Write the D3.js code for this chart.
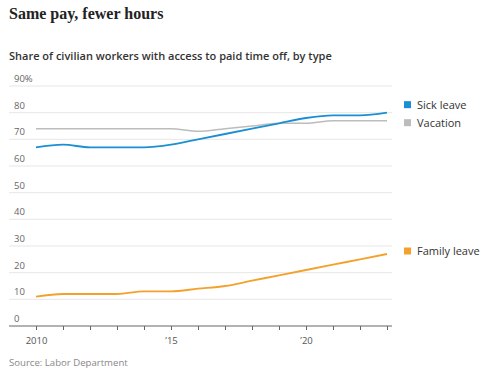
<!DOCTYPE html>
<html>
<head>
<meta charset="utf-8">
<script src="https://cdn.jsdelivr.net/npm/d3@7"></script>
<style>
  body { margin: 0; background: #fff; }
  svg { display: block; }
</style>
</head>
<body>
<svg id="chart"></svg>
<script>
// data
const years = [2010, 2011, 2012, 2013, 2014, 2015, 2016, 2017, 2018, 2019, 2020, 2021, 2022, 2023];
const sickLeave = [67, 68, 67, 67, 67, 68, 70, 72, 74, 76, 78, 79, 79, 80];
const vacation = [74, 74, 74, 74, 74, 74, 73, 74, 75, 76, 76, 77, 77, 77];
const familyLeave = [11, 12, 12, 12, 13, 13, 14, 15, 17, 19, 21, 23, 25, 27];
const seriesNames = ["Sick leave", "Vacation", "Family leave"];
const yTicks = [0, 10, 20, 30, 40, 50, 60, 70, 80, 90];
const xTickLabels = {2010: "2010", 2015: "’15", 2020: "’20"};

const width = 496, height = 375;
const colors = ["#1a8fd4", "#bcbcbc", "#f4a12c"];
const legendNudge = [-8, 2, -3];

const svg = d3.select("#chart").attr("width", width).attr("height", height);

const x = d3.scaleLinear().domain([2010, 2023]).range([36, 387]);
const y = d3.scaleLinear().domain([0, 90]).range([326, 86]);
const left = 9, right = 392;

svg.append("text")
    .attr("x", 9).attr("y", 19)
    .attr("font-family", "Liberation Serif")
    .attr("font-weight", "bold")
    .attr("font-size", 16)
    .attr("fill", "#222")
    .text("Same pay, fewer hours");

svg.append("text")
    .attr("x", 9).attr("y", 60)
    .attr("font-family", "Open Sans")
    .attr("font-weight", 600)
    .attr("font-size", 11)
    .attr("fill", "#333")
    .text("Share of civilian workers with access to paid time off, by type");

// gridlines + labels
const grid = svg.append("g");
grid.selectAll("line")
    .data(yTicks.filter(d => d > 0))
    .enter().append("line")
    .attr("x1", left).attr("x2", right)
    .attr("y1", d => y(d)).attr("y2", d => y(d))
    .attr("stroke", "#e6e6e6")
    .attr("stroke-width", 1);

grid.selectAll("text")
    .data(yTicks)
    .enter().append("text")
    .attr("x", 14)
    .attr("y", d => y(d) - 4)
    .attr("font-family", "Open Sans")
    .attr("font-size", 9.5)
    .attr("fill", "#666")
    .text(d => d === 90 ? "90%" : d);

// x axis
const xAxis = d3.axisBottom(x)
    .tickValues(years)
    .tickSize(4)
    .tickFormat(d => xTickLabels[d] || "");

const gx = svg.append("g")
    .attr("transform", `translate(0,${y(0)})`)
    .call(xAxis);
gx.select(".domain").remove();
gx.append("line")
    .attr("x1", left).attr("x2", right)
    .attr("stroke", "#666").attr("stroke-width", 1);
gx.selectAll(".tick line").attr("stroke", "#666");
gx.selectAll(".tick text")
    .attr("font-family", "Open Sans")
    .attr("font-size", 9.5)
    .attr("fill", "#555")
    .attr("dy", "1.2em");

// lines
const series = [sickLeave, vacation, familyLeave];
const line = d3.line()
    .x((d, i) => x(years[i]))
    .y(d => y(d))
    .curve(d3.curveMonotoneX);

// vacation drawn below sick leave
[1, 0, 2].forEach(k => {
    svg.append("path")
        .datum(series[k])
        .attr("d", line)
        .attr("fill", "none")
        .attr("stroke", colors[k])
        .attr("stroke-width", k === 1 ? 1.5 : 1.8);
});

// legend
const legend = svg.append("g");
seriesNames.forEach((name, k) => {
    const ly = y(series[k][series[k].length - 1]) + legendNudge[k];
    legend.append("rect")
        .attr("x", 404).attr("y", ly - 3.5)
        .attr("width", 7).attr("height", 7)
        .attr("fill", colors[k]);
    legend.append("text")
        .attr("x", 417).attr("y", ly + 4)
        .attr("font-family", "Open Sans")
        .attr("font-size", 11)
        .attr("fill", "#333")
        .text(name);
});

svg.append("text")
    .attr("x", 9).attr("y", 366)
    .attr("font-family", "Open Sans")
    .attr("font-size", 9.6)
    .attr("fill", "#888")
    .text("Source: Labor Department");
</script>
</body>
</html>
